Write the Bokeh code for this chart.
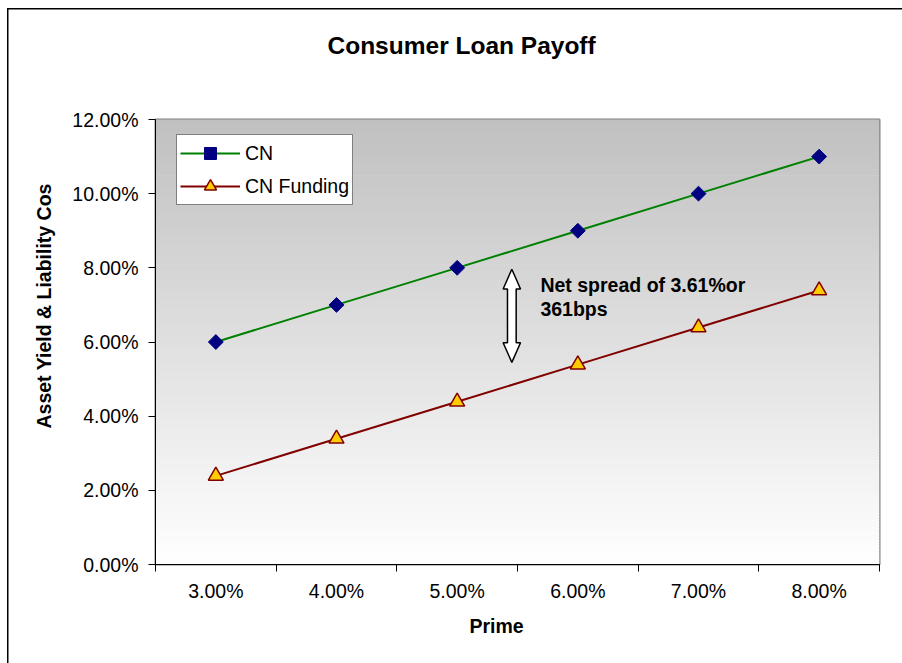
import numpy as np
from bokeh.plotting import figure
from bokeh.models import (Range1d, FixedTicker, NumeralTickFormatter, Label,
                          Legend, LegendItem, Title)
from bokeh.embed import file_html
from bokeh.resources import INLINE

# ---- data ----
prime = ["3.00%", "4.00%", "5.00%", "6.00%", "7.00%", "8.00%"]
cn = [0.060, 0.070, 0.080, 0.090, 0.100, 0.110]
cn_funding = [0.0239, 0.0339, 0.0439, 0.0539, 0.0639, 0.0739]
y_ticks = [0.0, 0.02, 0.04, 0.06, 0.08, 0.10, 0.12]

FONT = "Liberation Sans"
W, H = 902, 663
L, R, T, B = 155, 23, 119, 99

xpos = [i + 0.5 for i in range(len(prime))]

p = figure(width=W, height=H, output_backend="svg", toolbar_location=None,
           x_range=Range1d(0, len(prime)), y_range=Range1d(0, 0.12),
           min_border_left=L, min_border_right=R, min_border_top=T, min_border_bottom=B)
p.background_fill_color = "white"
p.border_fill_color = None
p.outline_line_color = "#808080"
p.outline_line_width = 2
p.xgrid.visible = False
p.ygrid.visible = False
# outer chart-area border (left and top edges visible in the window)
p.styles = {
    "background": ("linear-gradient(#000,#000) 7px 8px / 1.5px 660px no-repeat, "
                   "linear-gradient(#000,#000) 7px 8px / 900px 1.5px no-repeat, #ffffff")
}

# gradient background of plot area
n = 150
edges = np.linspace(0, 0.12, n + 1)
cols = []
for i in range(n):
    t = (i + 0.5) / n  # 0 bottom -> 1 top
    v = int(round(255 - t * (255 - 192)))
    cols.append("#%02x%02x%02x" % (v, v, v))
p.quad(left=0, right=len(prime), bottom=edges[:-1], top=edges[1:] + 0.0002,
       fill_color=cols, line_color=None)

# series
l1 = p.line(xpos, cn, line_color="#008000", line_width=2)
s1 = p.scatter(xpos, cn, marker="square", angle=np.pi / 4, size=10.5,
               fill_color="#000080", line_color="#000080")
l2 = p.line(xpos, cn_funding, line_color="#800000", line_width=2)
s2 = p.scatter(xpos, cn_funding, marker="triangle", size=15,
               fill_color="#FFCC00", line_color="#800000", line_width=1.5)

legend = Legend(items=[LegendItem(label="CN", renderers=[l1, s1]),
                       LegendItem(label="CN Funding", renderers=[l2, s2])],
                location=(21, 359), margin=0, padding=3, spacing=3,
                glyph_width=60, glyph_height=30, label_height=30, label_standoff=5,
                label_text_font=FONT, label_text_font_size="19.5px",
                label_text_color="black",
                border_line_color="black", border_line_width=1,
                background_fill_color="white", background_fill_alpha=1)
p.add_layout(legend, "center")

# axes
xa = p.xaxis[0]
xa.ticker = FixedTicker(ticks=xpos, minor_ticks=list(range(len(prime) + 1)))
xa.major_label_overrides = {x: lab for x, lab in zip(xpos, prime)}
xa.major_tick_out = 0
xa.major_tick_in = 0
xa.minor_tick_out = 7
xa.minor_tick_in = 0
xa.minor_tick_line_color = "black"
xa.axis_line_color = "black"
xa.major_label_standoff = 8
xa.major_label_text_font = FONT
xa.major_label_text_font_size = "19.5px"
xa.major_label_text_color = "black"

ya = p.yaxis[0]
ya.ticker = FixedTicker(ticks=y_ticks, minor_ticks=[])
ya.formatter = NumeralTickFormatter(format="0.00%")
ya.major_tick_out = 7
ya.major_tick_in = 0
ya.major_tick_line_color = "black"
ya.axis_line_color = "black"
ya.major_label_standoff = 10
ya.major_label_text_font = FONT
ya.major_label_text_font_size = "19.5px"
ya.major_label_text_color = "black"

# chart title (a blank spacer panel keeps it well above the plot area)
p.add_layout(Title(text=" ", text_font_size="10px", standoff=43), "above")
p.add_layout(Title(text="Consumer Loan Payoff", align="left", offset=172, standoff=10,
                   text_font=FONT, text_font_size="24.5px", text_font_style="bold",
                   text_color="black"), "above")
# axis titles
p.add_layout(Title(text="Prime", align="left", offset=314, standoff=20,
                   vertical_align="top",
                   text_font=FONT, text_font_size="19.5px", text_font_style="bold",
                   text_color="black"), "below")
p.add_layout(Title(text="Asset Yield & Liability Cos", align="left", offset=136, standoff=30,
                   text_font=FONT, text_font_size="19.5px", text_font_style="bold",
                   text_color="black"), "left")

# double arrow annotation
cx, top, bot = 2.953, 0.0796, 0.0545
hs, hh, hl = 0.036, 0.072, 0.0053
ax = [cx, cx + hh, cx + hs, cx + hs, cx + hh, cx, cx - hh, cx - hs, cx - hs, cx - hh]
ay = [top, top - hl, top - hl, bot + hl, bot + hl, bot, bot + hl, bot + hl, top - hl, top - hl]
p.patch(ax, ay, fill_color="white", line_color="black", line_width=1.5)

p.add_layout(Label(x=3.19, y=0.0755, text="Net spread of 3.61%or",
                   text_font=FONT, text_font_size="19.5px", text_font_style="bold",
                   text_align="left", text_baseline="middle", text_color="black"))
p.add_layout(Label(x=3.19, y=0.0688, text="361bps",
                   text_font=FONT, text_font_size="19.5px", text_font_style="bold",
                   text_align="left", text_baseline="middle", text_color="black"))

open("out.html", "w").write(file_html(p, INLINE))
